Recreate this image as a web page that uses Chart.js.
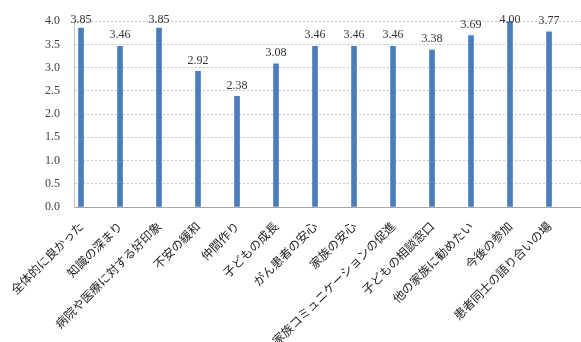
<!DOCTYPE html>
<html>
<head>
<meta charset="utf-8">
<script src="https://cdn.jsdelivr.net/npm/chart.js@4/dist/chart.umd.min.js"></script>
<style>
  html, body { margin: 0; padding: 0; background: #fff; }
  #wrap { width: 581px; height: 342px; position: relative; }
</style>
</head>
<body>
<div id="wrap"><canvas id="c" width="581" height="342"></canvas></div>
<script>
// Survey items (x axis) and mean scores
const categories = [
  '全体的に良かった', '知識の深まり', '病院や医療に対する好印象', '不安の緩和',
  '仲間作り', '子どもの成長', 'がん患者の安心', '家族の安心',
  '家族コミュニケーションの促進', '子どもの相談窓口', '他の家族に勧めたい',
  '今後の参加', '患者同士の語り合いの場'
];
const scores = [3.85, 3.46, 3.85, 2.92, 2.38, 3.08, 3.46, 3.46, 3.46, 3.38, 3.69, 4.00, 3.77];
const yTicks = [0, 0.5, 1.0, 1.5, 2.0, 2.5, 3.0, 3.5, 4.0];

const serif = '"Liberation Serif", "DejaVu Serif", serif';
const jp = '"Noto Sans CJK JP", sans-serif';

// Value labels drawn above each bar
const valueLabels = {
  id: 'valueLabels',
  afterDatasetsDraw(chart) {
    const ctx = chart.ctx;
    const meta = chart.getDatasetMeta(0);
    ctx.save();
    ctx.font = '12px ' + serif;
    ctx.fillStyle = '#333';
    ctx.textAlign = 'center';
    ctx.textBaseline = 'middle';
    meta.data.forEach((bar, i) => {
      const y = Math.max(bar.y - 11, chart.chartArea.top - 1);
      ctx.fillText(scores[i].toFixed(2), bar.x, y);
    });
    ctx.restore();
  }
};

new Chart(document.getElementById('c'), {
  type: 'bar',
  data: {
    datasets: [{
      data: scores.map((v, i) => ({ x: i, y: v })),
      backgroundColor: '#4a7ebb',
      borderWidth: 0,
      barThickness: 5
    }]
  },
  options: {
    responsive: false,
    animation: false,
    events: [],
    layout: { padding: { top: 19, right: 0, left: 0, bottom: 0 } },
    plugins: { legend: { display: false }, tooltip: { enabled: false } },
    scales: {
      x: {
        type: 'linear',
        min: -0.18,
        max: 12.82,
        offset: false,
        afterBuildTicks(scale) {
          scale.ticks = categories.map((_, i) => ({ value: i }));
        },
        afterFit(scale) { scale.height = 135; },
        grid: { display: false, drawTicks: false },
        border: { display: true, color: '#a6a6a6', width: 1 },
        ticks: {
          autoSkip: false,
          minRotation: 45,
          maxRotation: 45,
          padding: 12,
          color: '#222',
          font: { family: jp, size: 12 },
          callback: (v) => categories[v] ?? ''
        }
      },
      y: {
        min: 0,
        max: 4,
        afterBuildTicks(scale) {
          scale.ticks = yTicks.map(v => ({ value: v }));
        },
        afterFit(scale) { scale.width = 74; },
        grid: { color: '#c4c4c4', drawTicks: false },
        border: { display: true, color: '#c4c4c4', dash: [2, 2] },
        ticks: {
          padding: 14,
          color: '#404040',
          font: { family: serif, size: 12 },
          callback: (v) => Number(v).toFixed(1)
        }
      }
    }
  },
  plugins: [valueLabels]
});
</script>
</body>
</html>
